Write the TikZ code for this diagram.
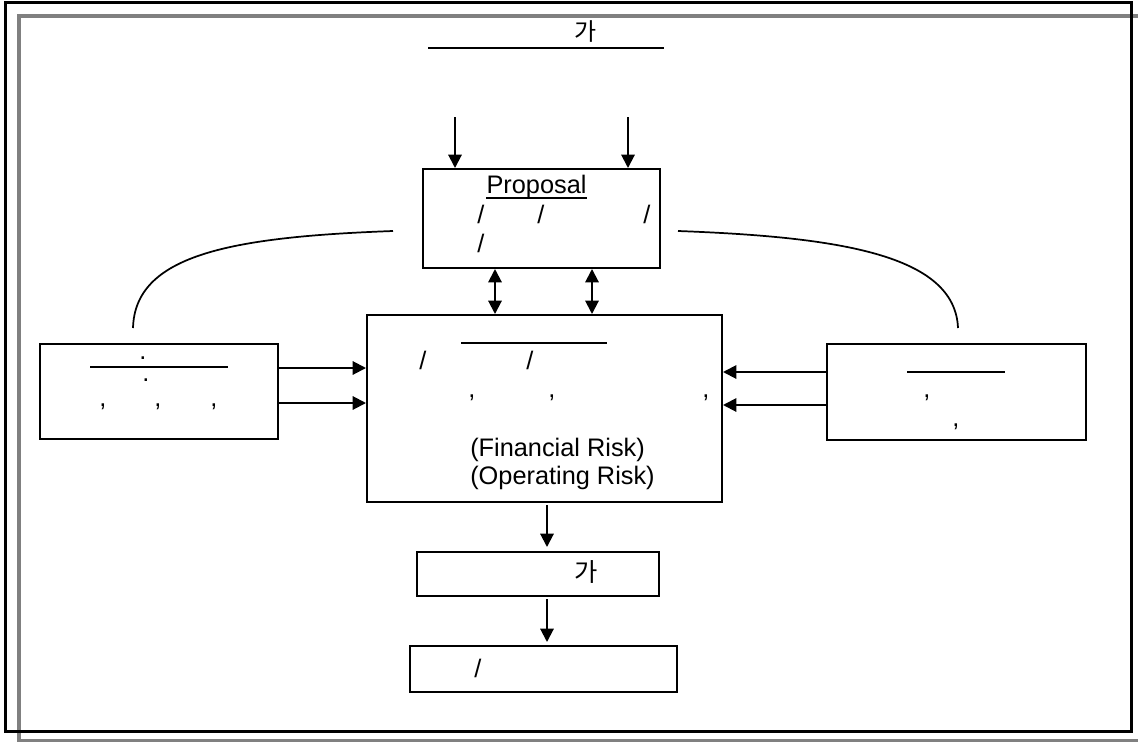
\documentclass[tikz,border=0pt]{standalone}
\usepackage{fontspec}
\setmainfont{Liberation Sans}
\newfontfamily\kr{Noto Sans CJK KR}
\usetikzlibrary{arrows.meta}
\definecolor{128_128_128}{RGB}{128, 128, 128}
\definecolor{black}{RGB}{0, 0, 0}
\newdimen\px \px=0.75pt

\begin{document}
\begin{tikzpicture}[
        x=0.75pt,
        y=-0.75pt,
        font=\fontsize{19}{21}\selectfont,
        box/.style={draw=black, line width=1.5pt, inner sep=0pt},
        glyph/.style={inner sep=0pt},
        rule/.style={line width=1.5pt},
        arr/.style={line width=1.5pt, -{Triangle[length=10pt, width=10pt]}},
        dblarr/.style={line width=1.5pt,
            {Triangle[length=10pt, width=10pt]}-{Triangle[length=10pt, width=10pt]}}
    ]

    \clip (0,0) rectangle (1138,742);

    % frames
    \draw[128_128_128, line width=3.5pt] (19,16) rectangle (1250,741);
    \draw[black, line width=2.25pt] (5,3) rectangle (1131,731);

    % title
    \node[glyph, font=\fontsize{18}{20}\selectfont] (title) at (586,32) {\kr 가};
    \draw[rule] (428,48) -- (664,48);

    % boxes
    \node[box, minimum width=237\px, minimum height=99\px] (proposal) at (541.5,218.5) {};
    \node[box, minimum width=355\px, minimum height=187\px] (main) at (544.5,408.5) {};
    \node[box, minimum width=238\px, minimum height=95\px] (left) at (159,391.5) {};
    \node[box, minimum width=259\px, minimum height=96\px] (right) at (956.5,392) {};
    \node[box, minimum width=242\px, minimum height=44\px] (result) at (538,574) {};
    \node[box, minimum width=267\px, minimum height=46\px] (action) at (543.5,669) {};

    % proposal box texts
    \node[glyph, anchor=base] (ptitle) at (536.5,193) {Proposal};
    \draw[line width=1.5pt] ([yshift=-4pt]ptitle.base west) -- ([yshift=-4pt]ptitle.base east);
    \node[glyph] (p1) at (481,214) {/};
    \node[glyph] (p2) at (541,214) {/};
    \node[glyph] (p3) at (647,214) {/};
    \node[glyph] (p4) at (481,243) {/};

    % main box texts
    \draw[rule] (461,343) -- (607,343);
    \node[glyph] (m1) at (423,360) {/};
    \node[glyph] (m2) at (530,360) {/};
    \node[glyph] (m3) at (472,398) {,};
    \node[glyph] (m4) at (552,398) {,};
    \node[glyph] (m5) at (706,398) {,};
    \node[glyph, anchor=west, align=left] (risk) at (470,464)
        {(Financial Risk)\\(Operating Risk)};

    % left box texts
    \node[glyph] (l1) at (143,358) {.};
    \draw[rule] (90,367) -- (228,367);
    \node[glyph] (l2) at (146,380) {.};
    \node[glyph] (l3) at (103,407) {,};
    \node[glyph] (l4) at (158,407) {,};
    \node[glyph] (l5) at (214,407) {,};

    % right box texts
    \draw[rule] (907,372) -- (1005,372);
    \node[glyph] (r1) at (927,398) {,};
    \node[glyph] (r2) at (956,427) {,};

    % lower boxes texts
    \node[glyph] (g1) at (586,572) {\kr 가};
    \node[glyph] (a1) at (478,668) {/};

    % connectors
    \coordinate (in1) at (455,117);
    \coordinate (in2) at (628,117);
    \draw[arr] (in1) -- (in1 |- proposal.north);
    \draw[arr] (in2) -- (in2 |- proposal.north);

    \coordinate (d1) at (495,0);
    \coordinate (d2) at (592,0);
    \draw[dblarr] (proposal.south -| d1) -- (main.north -| d1);
    \draw[dblarr] (proposal.south -| d2) -- (main.north -| d2);

    \coordinate (h1) at (0,368);
    \coordinate (h2) at (0,403);
    \draw[arr] (left.east |- h1) -- (main.west |- h1);
    \draw[arr] (left.east |- h2) -- (main.west |- h2);

    \coordinate (h3) at (0,372);
    \coordinate (h4) at (0,405);
    \draw[arr] (right.west |- h3) -- (main.east |- h3);
    \draw[arr] (right.west |- h4) -- (main.east |- h4);

    \coordinate (v1) at (547,0);
    \draw[arr, shorten <=2\px, shorten >=4\px] (main.south -| v1) -- (result.north -| v1);
    \draw[arr, shorten <=2\px, shorten >=3\px] (result.south -| v1) -- (action.north -| v1);

    % arcs
    \coordinate (cl) at (393,231);
    \coordinate (cle) at (133,328);
    \coordinate (cr) at (678,231);
    \coordinate (cre) at (958,328);
    \draw[line width=1.3pt] (cl) .. controls (230,237) and (135,255) .. (cle);
    \draw[line width=1.3pt] (cr) .. controls (840,237) and (955,255) .. (cre);

\end{tikzpicture}
\end{document}
